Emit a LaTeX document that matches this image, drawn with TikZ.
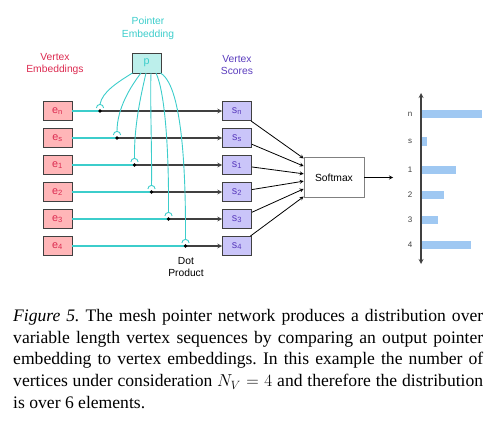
\documentclass[tikz,border=0pt]{standalone}
\usepackage{fontspec}
\setmainfont{Liberation Serif}
\setsansfont{Liberation Sans}
\usepackage{xcolor}
\usetikzlibrary{calc}

\definecolor{embred}{HTML}{DC2A50}
\definecolor{embfill}{HTML}{FFB6B8}
\definecolor{ptrcyan}{HTML}{3CCDCB}
\definecolor{ptrfill}{HTML}{BCEFEB}
\definecolor{scorepurple}{HTML}{5B3DBE}
\definecolor{scorefill}{HTML}{CAC5F9}
\definecolor{barblue}{HTML}{9FC8F2}
\definecolor{edgegray}{HTML}{404040}

\tikzset{
  lbl/.style={font=\sffamily\fontsize{10.3}{12.7}\selectfont, align=center},
  vbox/.style={draw=edgegray, line width=0.9pt, minimum width=29pt, minimum height=19pt,
    inner sep=0pt, font=\sffamily\fontsize{10.8}{12}\selectfont},
  ebox/.style={vbox, fill=embfill, text=embred},
  sbox/.style={vbox, fill=scorefill, text=scorepurple},
  feed/.style={ptrcyan, line width=1.1pt},
  flow/.style={edgegray, line width=1.1pt, -stealth}
}

\begin{document}
\frenchspacing
\begin{tikzpicture}[x=1pt, y=1pt, >=stealth]
  \useasboundingbox (0,0) rectangle (497,-430);

  % headings
  \node[lbl, text=ptrcyan] (ptrlbl) at (148,-28) {Pointer\\Embedding};
  \node[lbl, text=embred] (embl) at (55,-64) {Vertex\\Embeddings};
  \node[lbl, text=scorepurple] (scl) at (237,-65) {Vertex\\Scores};

  \node[vbox, fill=ptrfill, text=ptrcyan, minimum height=20pt] (p) at (146.5,-63) {p};

  % rows: embeddings, dot products, scores
  \foreach \k/\y/\dx in {n/111/100, s/138/117, 1/165/134.5, 2/192/151.5, 3/219/168.5, 4/246/185.5} {
    \node[ebox] (e\k) at (57.5,-\y) {e\textsubscript{\k}};
    \node[sbox] (s\k) at (237,-\y) {s\textsubscript{\k}};
    \coordinate (dot\k) at (\dx,-\y);
    \draw[feed] (e\k) -- (dot\k);
    \draw[flow] (dot\k) -- (s\k);
    \fill (dot\k) circle (1.8pt);
    \draw[ptrcyan, line width=0.9pt] ($(dot\k)+(-3.6,3)$) arc[start angle=180, end angle=0, radius=3.6];
  }

  % pointer to each dot product
  \draw[feed, line width=0.9pt] (132.5,-73) .. controls (118,-82) and (102,-92) .. ($(dotn)+(0,6.6)$);
  \draw[feed, line width=0.9pt] (141,-73) .. controls (131,-86) and (117,-108) .. ($(dots)+(0,6.6)$);
  \draw[feed, line width=0.9pt] (146,-73) .. controls (141,-95) and (134,-125) .. ($(dot1)+(0,6.6)$);
  \draw[feed, line width=0.9pt] (151,-73) .. controls (150,-100) and (152,-150) .. ($(dot2)+(0,6.6)$);
  \draw[feed, line width=0.9pt] (156,-73) .. controls (165,-92) and (169,-150) .. ($(dot3)+(0,6.6)$);
  \draw[feed, line width=0.9pt] (160.5,-73) .. controls (176,-82) and (186,-130) .. ($(dot4)+(0,6.6)$);

  \node[lbl] (dotlbl) at (186,-267) {Dot\\Product};

  % softmax
  \node[draw=gray, line width=0.6pt, minimum width=60pt, minimum height=40pt,
        font=\sffamily\fontsize{10.3}{12}\selectfont] (sm) at (334,-177.5) {Softmax};
  \foreach \k/\f in {n/0.03, s/0.22, 1/0.41, 2/0.59, 3/0.78, 4/0.97}
    \draw[flow, line width=0.8pt, black] (s\k) -- ($(sm.north west)!\f!(sm.south west)$);

  % distribution
  \coordinate (chart) at (393,-177.5);
  \draw[flow, line width=0.8pt, black] (sm) -- (chart);
  \foreach \lab/\y/\len in {n/114/60, s/141.5/5, 1/170/34, 2/195/22, 3/220/16, 4/245/49} {
    \fill[barblue] (422,-\y+4.2) rectangle ++(\len,-8.4);
    \node[font=\sffamily\fontsize{8}{9}\selectfont, text=edgegray] at (410,-\y) {\lab};
  }
  \draw[edgegray, line width=1.2pt, <->] (421,-93) -- (421,-264);

  % caption
  \node[anchor=north west, inner sep=0pt, text width=470pt, align=justify,
        font=\fontsize{17.6}{21.7}\selectfont] (cap) at (13,-309)
    {\hyphenpenalty=10000 \textit{Figure 5.} The mesh pointer network produces a distribution over\linebreak
     variable length vertex sequences by comparing an output pointer\linebreak
     embedding to vertex embeddings. In this example the number of\linebreak
     vertices under consideration $N_V = 4$ and therefore the distribution\linebreak
     is over 6 elements.};
\end{tikzpicture}
\end{document}
